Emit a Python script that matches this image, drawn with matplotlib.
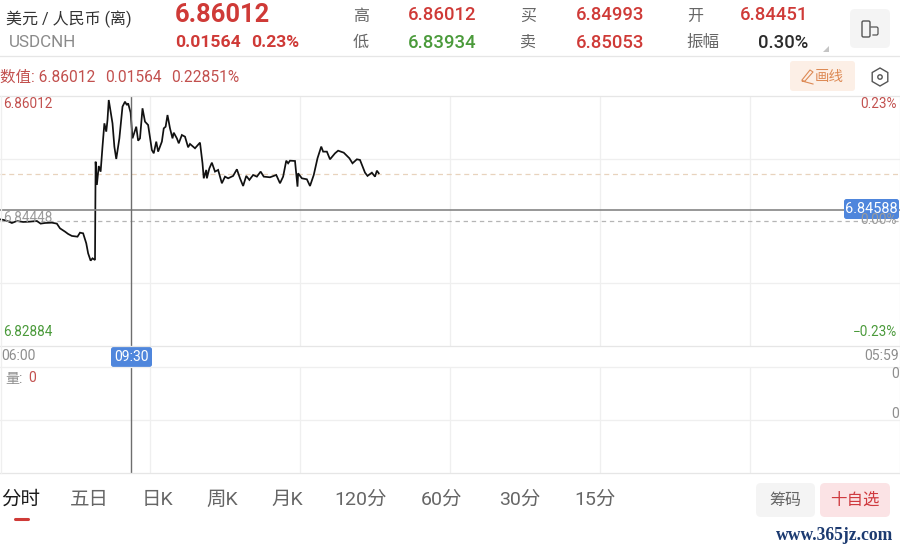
import matplotlib
matplotlib.use("Agg")
import matplotlib.pyplot as plt
from matplotlib.patches import FancyBboxPatch, RegularPolygon, Polygon, Circle

plt.rcParams['font.family'] = ['Roboto', 'Noto Sans CJK SC', 'DejaVu Sans']

minutes = [0,6,13,19,27,37,48,59,65,72,83,91,96,104,109,115,124,128,133,138,141,145,148,152,153,155,158,161,164,167,170,172,174,177,180,183,186,191,196,200,203,205,209,212,218,221,224,228,232,237,243,246,250,253,259,262,265,268,272,276,278,283,286,291,296,301,
           304,312,320,324,326,330,331,335,339,344,349,355,360,365,373,379,384,389,394,399,405,411,417,422,432,442,448,453,458,461,464,472,476,477,483,491,496,502,508,514,517,523,528,536,541,550,559,564,571,576,584,588,595,600,603,606]
prices = [6.84469,6.84461,6.84444,6.84423,6.84448,6.84436,6.84440,6.84448,6.84415,6.84423,6.84427,6.84415,6.84356,6.84315,6.84286,6.84261,6.84252,6.84302,6.84294,6.84169,6.84044,6.83952,6.83981,6.83960,6.85190,6.84899,6.85136,6.85065,6.85378,6.85670,6.85566,6.85712,6.85962,6.85816,6.85670,6.85378,6.85224,6.85482,6.85879,6.85941,6.85899,6.85920,6.85803,6.85482,6.85628,6.85453,6.85482,6.85858,6.85691,6.85649,6.85336,6.85295,6.85441,6.85316,6.85441,6.85607,6.85628,6.85774,6.85607,6.85482,6.85553,6.85482,6.85420,6.85524,6.85503,6.85370,
          6.85412,6.85358,6.85429,6.85170,6.84982,6.85087,6.84982,6.85107,6.85178,6.85066,6.85087,6.84920,6.85003,6.84982,6.85012,6.85095,6.84982,6.84886,6.85012,6.84962,6.85024,6.85003,6.85066,6.85003,6.84995,6.85024,6.84920,6.85003,6.85203,6.85170,6.85203,6.85199,6.84878,6.85045,6.84982,6.84970,6.84886,6.85024,6.85233,6.85379,6.85316,6.85316,6.85220,6.85295,6.85328,6.85303,6.85233,6.85170,6.85220,6.85212,6.85053,6.85012,6.85053,6.85003,6.85078,6.85045]

y_top = 6.86012
y_bottom = 6.82884
y_mid = 6.84448
y_quarters = [6.85230, 6.83666]
last_level = 6.85036
cross_price = 6.84588
cross_minute = 210
x_grid = [240, 480, 720, 960, 1200]
x_max = 1440

W, H = 900, 551
RED, GREEN = '#cf3a37', '#4a9a3a'
SOFT_RED = '#c2504e'
GRID = '#efefef'
LINE = '#e6e6e6'
GRAY = '#8e8e8e'
BLUE = '#4f86dc'

fig = plt.figure(figsize=(9, 5.51), dpi=100, facecolor='white')

def axes_px(x0, y0, x1, y1, **kw):
    return fig.add_axes([x0 / W, 1 - y1 / H, (x1 - x0) / W, (y1 - y0) / H], **kw)

# price panel
ax = axes_px(0, 96, 900, 346)
ax.set_xlim(0, x_max)
ax.set_ylim(y_bottom, y_top)
ax.set_xticks([]); ax.set_yticks([])
for s in ax.spines.values():
    s.set_visible(False)
for x in x_grid:
    ax.axvline(x, color=GRID, lw=0.9)
for y in y_quarters:
    ax.axhline(y, color=GRID, lw=0.9)
ax.axhline(last_level, color='#e8d3bd', lw=0.9, ls=(0, (4, 3)))
ax.axhline(y_mid, color='#b5b5b5', lw=0.9, ls=(0, (3.5, 3)))
ax.plot(minutes, prices, color='#111111', lw=1.25, solid_joinstyle='miter', zorder=4, clip_on=False)
ax.axhline(cross_price, color='#858585', lw=1.2, zorder=5)
ax.axvline(cross_minute, color='#6e6e6e', lw=1.0, zorder=5)

# volume panel
vx = axes_px(0, 367, 900, 473)
vx.set_xlim(0, x_max)
vx.set_ylim(0, 2)
vx.set_xticks([]); vx.set_yticks([])
for s in vx.spines.values():
    s.set_visible(False)
for x in x_grid:
    vx.axvline(x, color=GRID, lw=0.9)
vx.axhline(1, color=GRID, lw=0.9)
vx.axvline(cross_minute, color='#6e6e6e', lw=1.0, zorder=5)

# page furniture, in pixel coordinates
ov = fig.add_axes([0, 0, 1, 1], zorder=10)
ov.set_xlim(0, W); ov.set_ylim(H, 0)
ov.axis('off'); ov.patch.set_alpha(0)

def T(x, y, s, px, color, ha='left', weight='normal', **kw):
    ov.text(x, y + 1.5, s, fontsize=px * 0.72, color=color, ha=ha, va='center', fontweight=weight, **kw)

def box(x0, y0, x1, y1, color, r=4):
    ov.add_patch(FancyBboxPatch((x0 + r, y0 + r), x1 - x0 - 2 * r, y1 - y0 - 2 * r,
                                boxstyle=f'round,pad={r},rounding_size={r}', fc=color, ec='none'))

for y in [56, 96, 346, 367, 473]:
    ov.plot([0, W], [y, y], color=LINE if y != 367 else GRID, lw=0.9)
for x in [0.5, 899.5]:
    ov.plot([x, x], [96, 473], color=GRID, lw=0.9)

# header
T(6, 18, '美元 / 人民币 (离)', 16, '#333333')
T(9, 41, 'USDCNH', 17, '#8a8a8a')
T(175, 14, '6.86012', 25.5, RED, weight='bold')
T(175, 41, '0.01564', 17.5, RED, weight='bold')
T(251, 41, '0.23%', 17.5, RED, weight='bold')
for x, y, s in [(361, 15, '高'), (361, 41, '低'), (528, 15, '买'), (528, 41, '卖'), (695, 15, '开')]:
    T(x, y, s, 16, '#666666', ha='center')
T(703, 41, '振幅', 16.5, '#666666', ha='center')
T(408, 14, '6.86012', 18.5, RED, weight='medium')
T(408, 41, '6.83934', 18.5, GREEN, weight='medium')
T(576, 14, '6.84993', 18.5, RED, weight='medium')
T(576, 41, '6.85053', 18.5, RED, weight='medium')
T(808, 14, '6.84451', 18.5, RED, ha='right', weight='medium')
T(808, 41, '0.30%', 18.5, '#2b2b2b', ha='right', weight='medium')
ov.add_patch(Polygon([[829, 46], [829, 52], [823, 52]], fc='#c4c4c4', ec='none'))
box(850, 9, 890, 48, '#f4f4f4', r=5)
ov.add_patch(FancyBboxPatch((862, 21), 8, 16, boxstyle='round,pad=0,rounding_size=1.5', fc='none', ec='#555555', lw=1))
ov.plot([871, 877, 878, 878, 877, 873], [27, 27, 28, 34, 35, 35], color='#555555', lw=0.9)

T(0, 76, '数值: 6.86012', 15.5, SOFT_RED)
T(105, 76, '0.01564', 15.5, SOFT_RED)
T(171, 76, '0.22851%', 15.5, SOFT_RED)
box(790, 61, 855, 91, '#fcefe6', r=3)
T(815, 76, '画线', 14.5, '#dd8a55', ha='left')
ov.plot([802, 810, 813, 805, 802, 802, 813], [80, 70, 72, 81, 81, 81, 84], color='#dd8a55', lw=0.8)
ov.add_patch(RegularPolygon((880, 77), 6, radius=9, orientation=0, fc='none', ec='#555555', lw=1))
ov.add_patch(Circle((880, 77), 2.2, fc='none', ec='#555555', lw=1))

# axis labels
T(3, 103, f'{y_top:.5f}', 13.5, SOFT_RED)
T(3, 216, f'{y_mid:.5f}', 13.5, '#9a9a9a')
T(3, 331, f'{y_bottom:.5f}', 13.5, GREEN)
T(897, 103, '0.23%', 13.5, SOFT_RED, ha='right')
T(897, 218, '0.00%', 13.5, '#9a9a9a', ha='right')
T(897, 331, '−0.23%', 13.5, GREEN, ha='right')
T(1, 355, '06:00', 14, GRAY)
T(899, 355, '05:59', 14, GRAY, ha='right')
box(111, 347, 152, 367, BLUE, r=2.5)
T(131.5, 355.5, '09:30', 14, 'white', ha='center')
box(844, 199, 899, 219, BLUE, r=2.5)
T(871.5, 207.5, f'{cross_price:.5f}', 14.5, 'white', ha='center')

T(5, 377, '量:', 14, GRAY)
T(28, 377, '0', 14, SOFT_RED)
T(899, 373, '0', 14, GRAY, ha='right')
T(899, 413, '0', 14, GRAY, ha='right')

# tabs
tabs = ['分时', '五日', '日K', '周K', '月K', '120分', '60分', '30分', '15分']
tab_x = [21, 89, 157, 222, 287, 361, 442, 520, 595]
for i, (x, s) in enumerate(zip(tab_x, tabs)):
    T(x, 498.5, s, 19.5, '#1c1c1c' if i == 0 else '#666666', ha='center')
ov.plot([14.5, 27.5], [519, 519], color=RED, lw=2.2, solid_capstyle='round')
box(756, 483, 815, 517, '#f4f4f4', r=5)
T(785.5, 498.5, '筹码', 16, '#666666', ha='center')
box(820, 483, 890, 517, '#fbe3e5', r=5)
T(855, 498.5, '十自选', 16.5, '#cf3a3f', ha='center')
ov.text(893, 535, 'www.365jz.com', fontsize=12.7, color='#1c3a70', ha='right', va='center',
        family='Liberation Serif', fontweight='bold')

fig.savefig('out.png', dpi=100, facecolor='white')
